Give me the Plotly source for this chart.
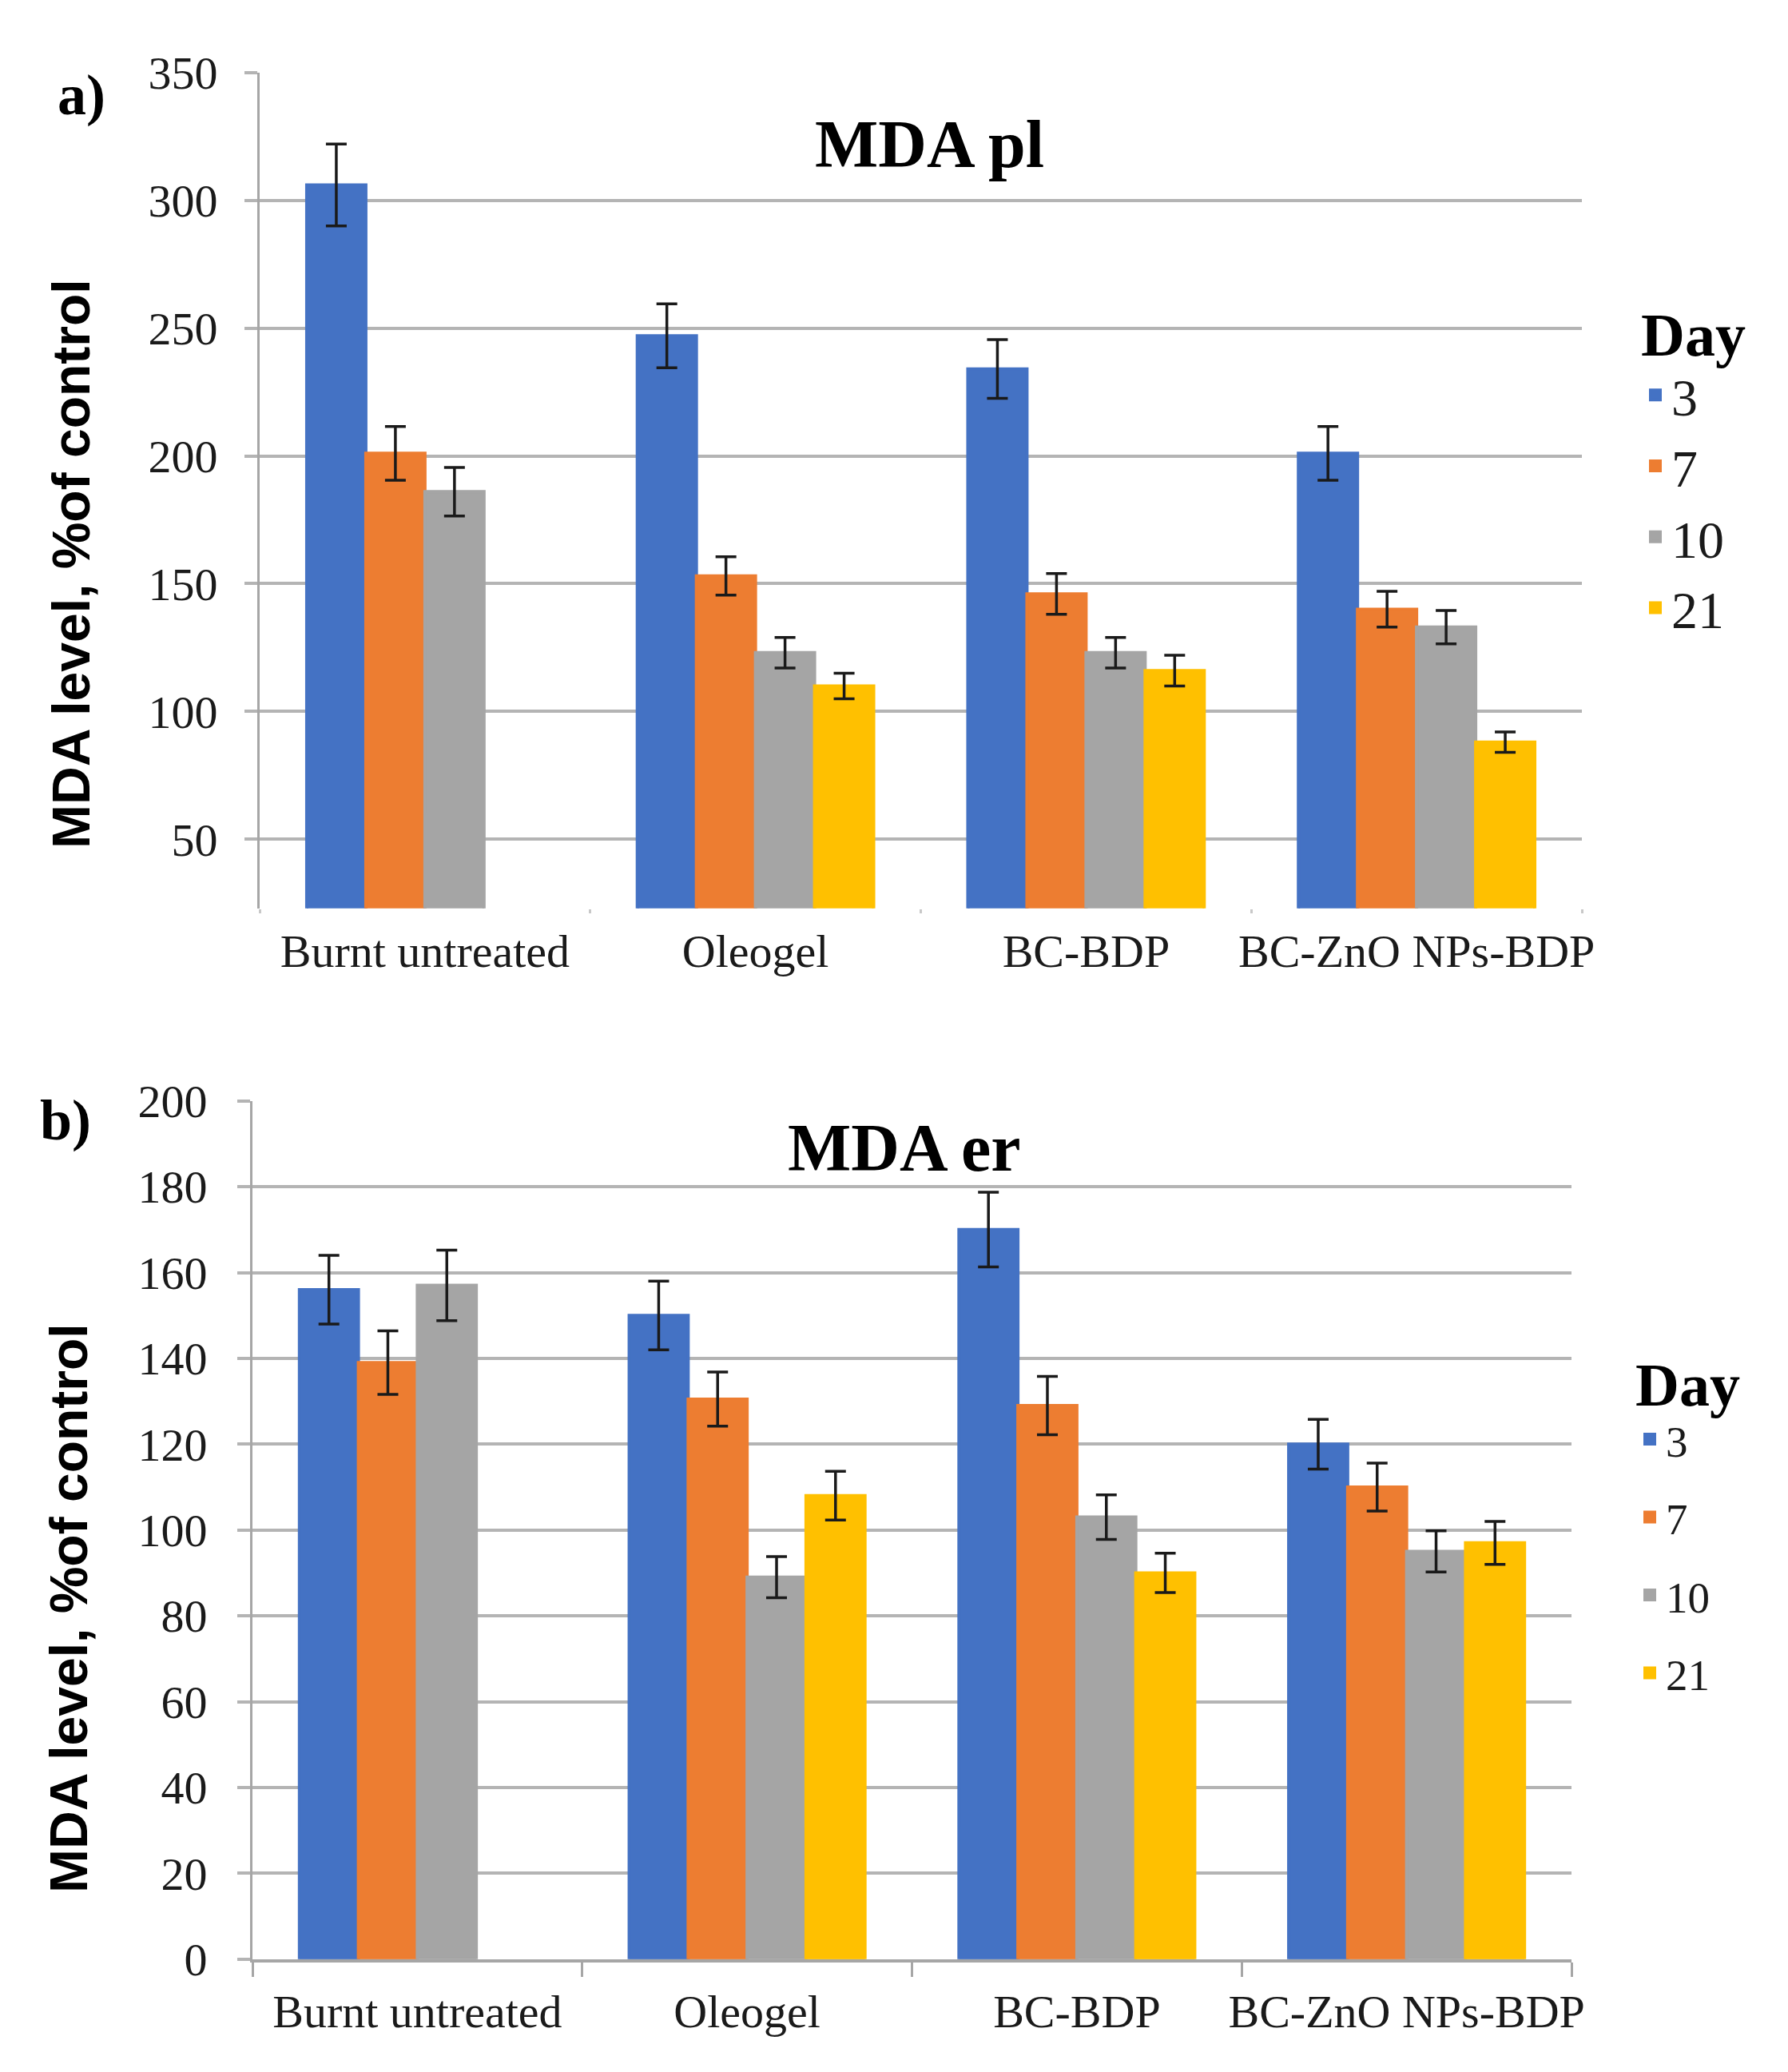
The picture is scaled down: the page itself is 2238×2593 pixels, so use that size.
import plotly.graph_objects as go

# ---------------- data ----------------
categories = ["Burnt untreated", "Oleogel", "BC-BDP", "BC-ZnO NPs-BDP"]
days = ["3", "7", "10", "21"]
colors = ["#4472C4", "#ED7D31", "#A5A5A5", "#FFC000"]

# panel a) MDA pl
pl_day3 = [306, 247, 234, 201]
pl_day7 = [201, 153, 146, 140]
pl_day10 = [186, 123, 123, 133]
pl_day21 = [None, 110, 116, 88]
pl_err3 = [16, 12.5, 11.5, 10.5]
pl_err7 = [10.5, 7.5, 8, 7]
pl_err10 = [9.5, 6, 6, 6.5]
pl_err21 = [None, 5, 6, 4]

# panel b) MDA er
er_day3 = [156, 150, 170, 120]
er_day7 = [139, 130.5, 129, 110]
er_day10 = [157, 89, 103, 95]
er_day21 = [None, 108, 90, 97]
er_err3 = [8, 8, 8.7, 5.8]
er_err7 = [7.4, 6.3, 6.8, 5.6]
er_err10 = [8.2, 4.8, 5.2, 4.8]
er_err21 = [None, 5.7, 4.6, 5]

pl_values = [pl_day3, pl_day7, pl_day10, pl_day21]
pl_errors = [pl_err3, pl_err7, pl_err10, pl_err21]
er_values = [er_day3, er_day7, er_day10, er_day21]
er_errors = [er_err3, er_err7, er_err10, er_err21]

# ---------------- layout helpers ----------------
W, H = 2238, 2593


def fx(px):
    return px / W


def fy(py):
    return 1 - py / H


SERIF = "Liberation Serif"
SANS = "Liberation Sans"
GRID = "#B4B4B4"
AXIS = "#A6A6A6"

fig = go.Figure()

for i, d in enumerate(days):
    fig.add_trace(go.Bar(
        x=categories, y=pl_values[i], name=d,
        marker=dict(color=colors[i], line=dict(width=4, color=colors[i])),
        error_y=dict(type="data", array=pl_errors[i], visible=True,
                     color="#1a1a1a", thickness=3.5, width=13),
        xaxis="x", yaxis="y", legend="legend", legendgroup="a" + d,
    ))

for i, d in enumerate(days):
    fig.add_trace(go.Bar(
        x=categories, y=er_values[i], name=d,
        marker=dict(color=colors[i], line=dict(width=4, color=colors[i])),
        error_y=dict(type="data", array=er_errors[i], visible=True,
                     color="#1a1a1a", thickness=3.5, width=13),
        xaxis="x2", yaxis="y2", legend="legend2", legendgroup="b" + d,
    ))

tickfont = dict(family=SERIF, size=58, color="#1a1a1a")

fig.update_layout(
    width=W, height=H,
    margin=dict(l=0, r=0, t=0, b=0, autoexpand=False),
    paper_bgcolor="white", plot_bgcolor="white",
    barmode="group", bargap=0.285, bargroupgap=0,
    showlegend=True,
    xaxis=dict(domain=[fx(325), fx(1980)], anchor="y", type="category",
               tickson="boundaries", ticks="outside", ticklen=5, tickwidth=3,
               tickcolor="#C8C8C8", showline=False, showgrid=False,
               tickfont=tickfont, ticklabelstandoff=14, tickangle=0,
               automargin=False),
    yaxis=dict(domain=[fy(1136.7), fy(90.7)], anchor="x", range=[23, 350],
               tick0=0, dtick=50, showgrid=True, gridcolor=GRID, gridwidth=4,
               showline=True, linecolor=AXIS, linewidth=3, zeroline=False,
               ticks="outside", ticklen=16, tickwidth=4, tickcolor=GRID,
               tickfont=tickfont, ticklabelstandoff=22, automargin=False),
    xaxis2=dict(domain=[fx(316), fx(1967)], anchor="y2", type="category",
                tickson="boundaries", ticks="outside", ticklen=18, tickwidth=3,
                tickcolor=AXIS, showline=True, linecolor=AXIS, linewidth=4,
                showgrid=False, tickfont=tickfont, ticklabelstandoff=12,
                tickangle=0, automargin=False),
    yaxis2=dict(domain=[fy(2451.7), fy(1377.7)], anchor="x2", range=[0, 200],
                tick0=0, dtick=20, showgrid=True, gridcolor=GRID, gridwidth=4,
                showline=True, linecolor=AXIS, linewidth=3, zeroline=False,
                ticks="outside", ticklen=16, tickwidth=4, tickcolor=GRID,
                tickfont=tickfont, ticklabelstandoff=26, automargin=False),
    legend=dict(x=fx(2052), y=fy(346), xanchor="left", yanchor="top",
                font=dict(family=SERIF, size=66, color="#1a1a1a"),
                title=dict(text="Day", font=dict(family=SERIF, size=76,
                                                 color="black", weight="bold")),
                bgcolor="rgba(0,0,0,0)", tracegroupgap=0, traceorder="normal"),
    legend2=dict(x=fx(2045), y=fy(1660), xanchor="left", yanchor="top",
                 font=dict(family=SERIF, size=55, color="#1a1a1a"),
                 title=dict(text="Day", font=dict(family=SERIF, size=76,
                                                  color="black", weight="bold")),
                 bgcolor="rgba(0,0,0,0)", tracegroupgap=23, traceorder="grouped"),
)

annotations = [
    dict(text="a)", x=fx(102), y=fy(119), font=dict(family=SERIF, size=72, color="black", weight="bold")),
    dict(text="MDA pl", x=fx(1163), y=fy(181), font=dict(family=SERIF, size=84, color="black", weight="bold")),
    dict(text="MDA level, %of control", x=fx(89), y=fy(706), textangle=-90,
         font=dict(family=SANS, size=66, color="black", weight="bold")),
    dict(text="b)", x=fx(82), y=fy(1402), font=dict(family=SERIF, size=72, color="black", weight="bold")),
    dict(text="MDA er", x=fx(1132), y=fy(1436), font=dict(family=SERIF, size=84, color="black", weight="bold")),
    dict(text="MDA level, %of control", x=fx(86), y=fy(2013), textangle=-90,
         font=dict(family=SANS, size=66, color="black", weight="bold")),
]
for a in annotations:
    a.update(xref="paper", yref="paper", showarrow=False, xanchor="center", yanchor="middle")
fig.update_layout(annotations=annotations)

fig.write_html("out.html", config={"displayModeBar": False},
               post_script="document.body.style.margin='0';")
